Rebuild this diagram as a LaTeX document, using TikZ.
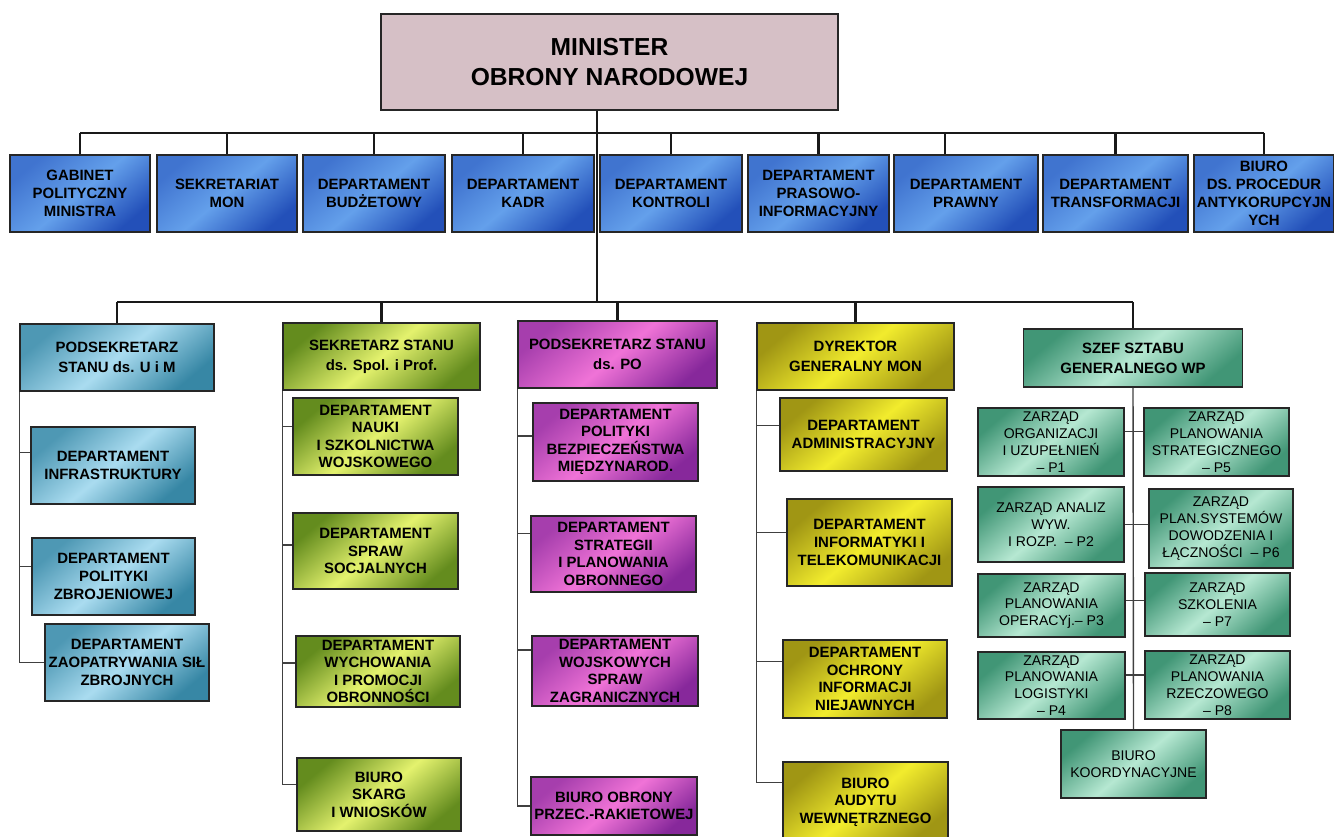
\documentclass[tikz,border=0pt]{standalone}
\usepackage{fontspec}
\setmainfont{Liberation Sans}
\definecolor{minpink}{RGB}{214,192,198}
\definecolor{blueL}{RGB}{100,160,235}
\definecolor{blueD}{RGB}{35,80,185}
\definecolor{cyanL}{RGB}{170,220,240}
\definecolor{cyanD}{RGB}{55,135,165}
\definecolor{limeL}{RGB}{228,242,110}
\definecolor{limeD}{RGB}{100,140,30}
\definecolor{magL}{RGB}{240,115,215}
\definecolor{magD}{RGB}{135,40,155}
\definecolor{yelL}{RGB}{242,236,45}
\definecolor{yelD}{RGB}{160,150,20}
\definecolor{mintL}{RGB}{182,232,210}
\definecolor{mintD}{RGB}{65,150,118}
\tikzstyle{box}=[draw=black!85, line width=0.9pt, inner xsep=0pt, inner ysep=1pt, align=center, font=\bfseries\fontsize{8.5}{10}\selectfont]
\tikzstyle{minbox}=[box, fill=minpink, font=\bfseries\fontsize{14}{17.5}\selectfont]
\tikzstyle{topbox}=[box, minimum height=1.54cm, font=\bfseries\fontsize{8.5}{10.2}\selectfont, top color=blueD!55!blueL, bottom color=blueD, middle color=blueL, shading angle=40]
\tikzstyle{headbox}=[box, minimum height=1.34cm, font=\bfseries\fontsize{8.5}{11.3}\selectfont]
\tikzstyle{uim}=[top color=cyanD!80!cyanL, bottom color=cyanD, middle color=cyanL, shading angle=40]
\tikzstyle{spol}=[top color=limeD, bottom color=limeD, middle color=limeL, shading angle=40]
\tikzstyle{po}=[top color=magD!70!magL, bottom color=magD, middle color=magL, shading angle=40]
\tikzstyle{dg}=[top color=yelD, bottom color=yelD, middle color=yelL, shading angle=40]
\tikzstyle{sg}=[top color=mintD, bottom color=mintD, middle color=mintL, shading angle=40]
\tikzstyle{zbox}=[box, sg, inner ysep=0pt, font=\fontsize{8}{9.6}\selectfont]
\tikzstyle{bus}=[line width=1.3pt, black!90]
\tikzstyle{col}=[line width=0.8pt, black!75]

\begin{document}
\begin{tikzpicture}[x=0.02cm, y=-0.02cm]
        \useasboundingbox (0,0) rectangle (1334,837);
        \node[minbox, minimum width=9.14cm, minimum height=1.92cm] (min) at (609.5,62) {MINISTER\\OBRONY NARODOWEJ};
        \coordinate (bus1) at (597,133);
        \coordinate (bus2) at (597,302);

        \node[topbox, minimum width=2.8cm] (gab) at (80,193.5) {GABINET\\POLITYCZNY\\MINISTRA};
        \node[topbox, minimum width=2.8cm] (sek) at (227,193.5) {SEKRETARIAT\\MON};
        \node[topbox, minimum width=2.84cm] (bud) at (374,193.5) {DEPARTAMENT\\BUDŻETOWY};
        \node[topbox, minimum width=2.84cm] (kad) at (523,193.5) {DEPARTAMENT\\KADR};
        \node[topbox, minimum width=2.84cm] (kon) at (671,193.5) {DEPARTAMENT\\KONTROLI};
        \node[topbox, minimum width=2.82cm] (pra) at (818.5,193.5) {DEPARTAMENT\\PRASOWO-\\INFORMACYJNY};
        \node[topbox, minimum width=2.88cm] (prw) at (966,193.5) {DEPARTAMENT\\PRAWNY};
        \node[topbox, minimum width=2.9cm] (tra) at (1115.5,193.5) {DEPARTAMENT\\TRANSFORMACJI};
        \node[topbox, minimum width=2.8cm] (bap) at (1264,193.5) {BIURO\\DS. PROCEDUR\\ANTYKORUPCYJN\\YCH};

        \draw[bus] (min.south -| bus1) -- (bus2);
        \draw[bus] (gab.north |- bus1) -- (bap.north |- bus1);
        \foreach \n in {gab,sek,bud,kad,kon,pra,tra,bap}
                \draw[bus] (\n.north) -- (\n.north |- bus1);
        \coordinate (prwtop) at ([xshift=-0.42cm]prw.north);
        \draw[bus] (prwtop) -- (prwtop |- bus1);

        \node[headbox, uim, minimum width=3.88cm] (umh) at (117,357.5) {PODSEKRETARZ\\STANU ds. U i M};
        \node[headbox, spol, minimum width=3.94cm] (ssh) at (381.5,356.5) {SEKRETARZ STANU\\ds. Spol. i Prof.};
        \node[headbox, po, minimum width=3.98cm] (poh) at (617.5,354.5) {PODSEKRETARZ STANU\\ds. PO};
        \node[headbox, dg, minimum width=3.94cm] (dgh) at (855.5,356.5) {DYREKTOR\\GENERALNY MON};
        \node[headbox, sg, minimum width=4.38cm, minimum height=1.16cm] (szef) at (1133,358) {SZEF SZTABU\\GENERALNEGO WP};

        \draw[bus] (umh.north |- bus2) -- (szef.north |- bus2);
        \foreach \n in {umh,ssh,poh,dgh,szef}
                \draw[bus] (\n.north) -- (\n.north |- bus2);

        \node[box, uim, minimum width=3.28cm, minimum height=1.54cm] (inf) at (113,465.5) {DEPARTAMENT\\INFRASTRUKTURY};
        \node[box, uim, minimum width=3.26cm, minimum height=1.54cm] (pzb) at (113.5,576.5) {DEPARTAMENT\\POLITYKI\\ZBROJENIOWEJ};
        \node[box, uim, minimum width=3.28cm, minimum height=1.54cm] (zsz) at (127,662.5) {DEPARTAMENT\\ZAOPATRYWANIA SIŁ\\ZBROJNYCH};
        \draw[col] (umh.south west) |- (zsz.west);
        \draw[col] (umh.south west) |- (inf.171);
        \draw[col] (umh.south west) |- (pzb.173);

        \node[box, spol, minimum width=3.3cm, minimum height=1.54cm] (nau) at (375.5,436.5) {DEPARTAMENT\\NAUKI\\I SZKOLNICTWA\\WOJSKOWEGO};
        \node[box, spol, minimum width=3.3cm, minimum height=1.52cm] (soc) at (375.5,551) {DEPARTAMENT\\SPRAW\\SOCJALNYCH};
        \node[box, spol, minimum width=3.28cm, minimum height=1.42cm] (wyc) at (378,671.5) {DEPARTAMENT\\WYCHOWANIA\\I PROMOCJI\\OBRONNOŚCI};
        \node[box, spol, minimum width=3.28cm, minimum height=1.46cm] (ska) at (379,794.5) {BIURO\\SKARG\\I WNIOSKÓW};
        \draw[col] (ssh.south west) |- (ska.173);
        \foreach \n/\a in {nau/173,soc/176,wyc/174}
                \draw[col] (ssh.south west) |- (\n.\a);

        \node[box, po, minimum width=3.3cm, minimum height=1.56cm] (bez) at (615.5,442) {DEPARTAMENT\\POLITYKI\\BEZPIECZEŃSTWA\\MIĘDZYNAROD.};
        \node[box, po, minimum width=3.3cm, minimum height=1.52cm] (str) at (613.5,554) {DEPARTAMENT\\STRATEGII\\I PLANOWANIA\\OBRONNEGO};
        \node[box, po, minimum width=3.32cm, minimum height=1.4cm] (wsz) at (615,671) {DEPARTAMENT\\WOJSKOWYCH\\SPRAW\\ZAGRANICZNYCH};
        \node[box, po, minimum width=3.32cm, minimum height=1.16cm] (bop) at (614,806) {BIURO OBRONY\\PRZEC.-RAKIETOWEJ};
        \draw[col] (poh.south west) |- (bop.west);
        \foreach \n/\a in {bez/176,str/166,wsz/166}
                \draw[col] (poh.south west) |- (\n.\a);

        \node[box, dg, minimum width=3.34cm, minimum height=1.46cm] (adm) at (863.5,434.5) {DEPARTAMENT\\ADMINISTRACYJNY};
        \node[box, dg, minimum width=3.3cm, minimum height=1.74cm] (itk) at (869.5,542.5) {DEPARTAMENT\\INFORMATYKI I\\TELEKOMUNIKACJI};
        \node[box, dg, minimum width=3.28cm, minimum height=1.56cm] (och) at (865,679) {DEPARTAMENT\\OCHRONY\\INFORMACJI\\NIEJAWNYCH};
        \node[box, dg, minimum width=3.3cm, minimum height=1.6cm] (aud) at (865.5,802) {BIURO\\AUDYTU\\WEWNĘTRZNEGO};
        \draw[col] (dgh.south west) |- (aud.167);
        \foreach \n/\a in {adm/174,itk/173,och/168}
                \draw[col] (dgh.south west) |- (\n.\a);

        \node[zbox, minimum width=2.92cm, minimum height=1.36cm] (p1) at (1051,442) {ZARZĄD\\ORGANIZACJI\\I UZUPEŁNIEŃ\\– P1};
        \node[zbox, minimum width=2.9cm, minimum height=1.36cm] (p5) at (1216.5,442) {ZARZĄD\\PLANOWANIA\\STRATEGICZNEGO\\– P5};
        \node[zbox, minimum width=2.92cm, minimum height=1.5cm] (p2) at (1051,524.5) {ZARZĄD ANALIZ\\WYW.\\I ROZP.~ – P2};
        \node[zbox, minimum width=2.88cm, minimum height=1.58cm] (p6) at (1221,528.5) {ZARZĄD\\PLAN.SYSTEMÓW\\DOWODZENIA I\\ŁĄCZNOŚCI~ – P6};
        \node[zbox, minimum width=2.94cm, minimum height=1.26cm] (p3) at (1051.5,605.5) {ZARZĄD\\PLANOWANIA\\OPERACYj.– P3};
        \node[zbox, minimum width=2.9cm, minimum height=1.26cm] (p7) at (1217.5,604.5) {ZARZĄD\\SZKOLENIA\\– P7};
        \node[zbox, minimum width=2.94cm, minimum height=1.34cm] (p4) at (1051.5,685.5) {ZARZĄD\\PLANOWANIA\\LOGISTYKI\\– P4};
        \node[zbox, minimum width=2.9cm, minimum height=1.36cm] (p8) at (1217.5,685) {ZARZĄD\\PLANOWANIA\\RZECZOWEGO\\– P8};
        \node[zbox, minimum width=2.9cm, minimum height=1.36cm] (bk) at (1133.5,764) {BIURO\\KOORDYNACYJNE};
        \draw[col] (szef.south) -- (bk.north);
        \draw[col] (p1.8) -- (p1.8 -| p5.west);
        \draw[col] (p2.east) -- (p2.east -| p6.west);
        \draw[col] (p3.4) -- (p3.4 -| p7.west);
        \draw[col] (p4.8) -- (p4.8 -| p8.west);
\end{tikzpicture}
\end{document}
